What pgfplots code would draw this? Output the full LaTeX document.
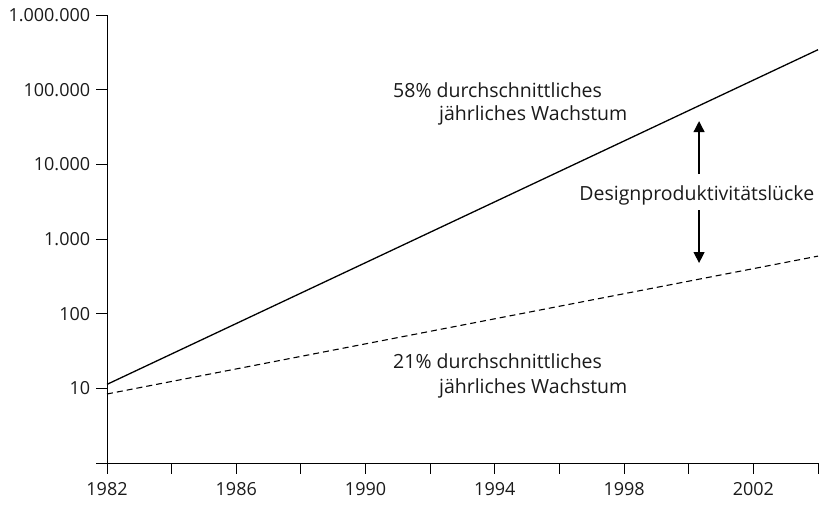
\documentclass[border=0pt]{standalone}
\usepackage{pgfplots}
\pgfplotsset{compat=1.18}
\usepackage{fontspec}
\setmainfont{Open Sans}
\usetikzlibrary{arrows.meta}
\definecolor{txt}{HTML}{1A1A1A}
\begin{document}
\fontsize{17bp}{20bp}\selectfont
\begin{tikzpicture}
\begin{axis}[
  at={(0,0)}, anchor=south west,
  scale only axis, width=711bp, height=448bp,
  xmin=1982, xmax=2004, ymode=log, ymin=1, ymax=1e6,
  axis lines*=left,
  xtick={1982,1984,...,2004},
  xticklabels={1982,,1986,,1990,,1994,,1998,,2002,},
  ytick={1,10,100,1000,10000,100000,1000000},
  yticklabels={,10,100,1.000,10.000,100.000,1.000.000},
  yminorticks=false, xminorticks=false,
  tick align=outside, major tick length=11bp,
  tick style={black, line width=0.9bp},
  axis line style={black, line width=0.9bp},
  ticklabel style={font=\fontsize{18bp}{21bp}\selectfont, text=txt},
  xticklabel style={yshift=-3bp},
  clip=false,
]
\addplot[black, line width=1.3bp] coordinates {(1982,11.3) (2004,343000)};
\addplot[black, line width=1.1bp, dash pattern=on 6bp off 4bp] coordinates {(1982,8.4) (2004,590)};

\begin{scope}[every node/.style={inner sep=0, text=txt, font=\fontsize{19.5bp}{23bp}\selectfont}]
\node[anchor=base west] at (axis cs:1990.85,79700) {58\% durchschnittliches};
\node[anchor=base west] at (axis cs:1992.27,39230) {jährliches Wachstum};
\node[anchor=base west] at (axis cs:1990.85,18.7) {21\% durchschnittliches};
\node[anchor=base west] at (axis cs:1992.27,8.66) {jährliches Wachstum};
\node[anchor=base] at (axis cs:2000.25,3328) {Designproduktivitätslücke};
\end{scope}
\draw[black, line width=1.3bp, -{Triangle[length=11bp,width=11bp]}] (axis cs:2000.32,7420) -- (axis cs:2000.32,37900);
\draw[black, line width=1.3bp, -{Triangle[length=11bp,width=11bp]}] (axis cs:2000.32,2445) -- (axis cs:2000.32,477);
\end{axis}
\pgfresetboundingbox
\path[use as bounding box] (-107bp,-42bp) rectangle (712bp,463bp);
\end{tikzpicture}
\end{document}
